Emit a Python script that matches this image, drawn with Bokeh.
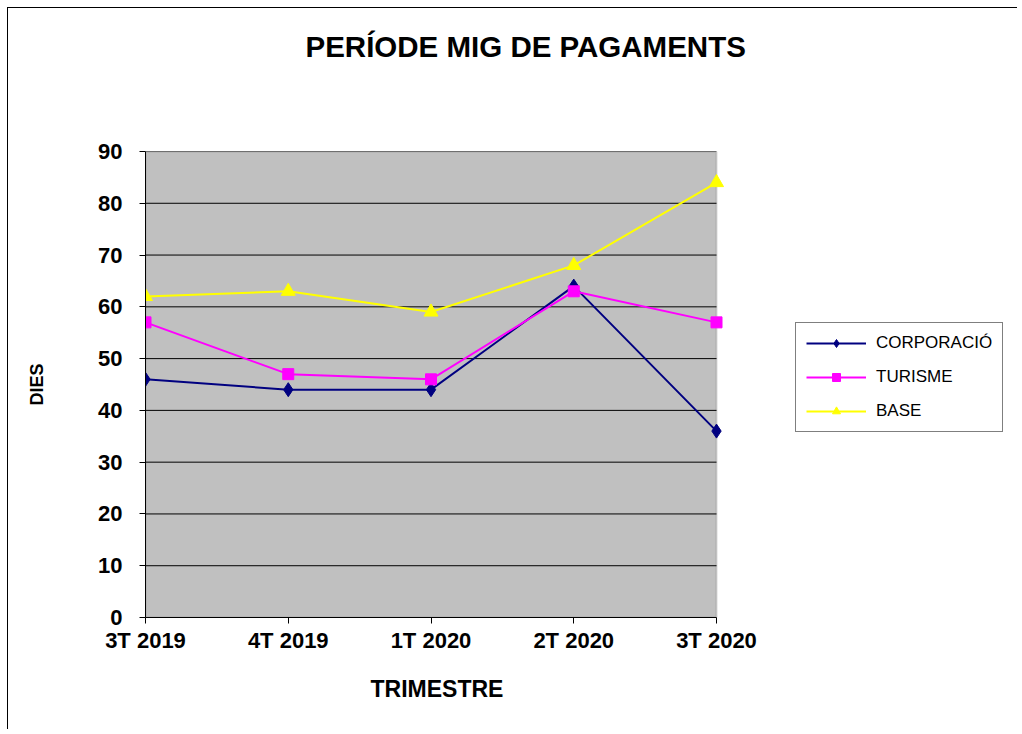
from bokeh.plotting import figure
from bokeh.models import Legend, LegendItem, FixedTicker, Range1d, BoxAnnotation, Title
from bokeh.embed import file_html
from bokeh.resources import INLINE

categories = ["3T 2019", "4T 2019", "1T 2020", "2T 2020", "3T 2020"]
corporacio = [46, 44, 44, 64, 36]
turisme = [57, 47, 46, 63, 57]
base = [62, 63, 59, 68, 84]
y_ticks = [0, 10, 20, 30, 40, 50, 60, 70, 80, 90]

FONT = "Liberation Sans"
xs = list(range(len(categories)))
x_last = len(categories) - 1
y_top = y_ticks[-1]

# pixel geometry (canvas starts at page x=8,y=8)
W, H = 1010, 722
MB_L, MB_R, MB_T, MB_B = 137, 4, 143, 113
plot_px = 716 - 145                      # width of grey plot area
frame_px = W - MB_L - MB_R
x_end = x_last * frame_px / plot_px      # extra room on the right for the legend

p = figure(title=None, width=W, height=H, output_backend="svg", toolbar_location=None,
           x_range=Range1d(0, x_end), y_range=Range1d(0, y_top),
           min_border_left=MB_L, min_border_right=MB_R, min_border_top=MB_T, min_border_bottom=MB_B,
           styles={"margin-left": "7px", "margin-top": "7px",
                   "border-left": "1px solid black", "border-top": "1px solid black"})
p.background_fill_color = "white"
p.border_fill_color = "white"
p.outline_line_color = None
p.xgrid.grid_line_color = None
p.ygrid.grid_line_color = None

plot_area = BoxAnnotation(left=0, right=x_last, bottom=0, top=y_top,
                          fill_color="#C0C0C0", fill_alpha=1,
                          line_color="#808080", line_width=2, level="underlay")
p.add_layout(plot_area)
p.segment(x0=[0] * len(y_ticks[1:]), x1=[x_last] * len(y_ticks[1:]),
          y0=y_ticks[1:], y1=y_ticks[1:], line_color="black", line_width=1)

# spacer between frame and main title, then the main title
p.add_layout(Title(text=" ", text_font_size="1px", standoff=63), "above")
p.add_layout(Title(text="PERÍODE MIG DE PAGAMENTS", text_font=FONT, text_font_size="29.5px",
                   text_font_style="bold", text_color="black", align="left", offset=160,
                   vertical_align="top", standoff=42), "above")

p.yaxis.ticker = FixedTicker(ticks=y_ticks)
p.xaxis.ticker = FixedTicker(ticks=xs)
p.xaxis.bounds = (0, x_last)
p.xaxis.major_label_overrides = {i: c for i, c in enumerate(categories)}
for ax in (p.xaxis, p.yaxis):
    ax.axis_line_color = "black"
    ax.axis_line_width = 1
    ax.major_tick_line_color = "black"
    ax.major_tick_out = 6
    ax.major_tick_in = 0
    ax.minor_tick_line_color = None
    ax.major_label_text_font = FONT
    ax.major_label_text_font_size = "22px"
    ax.major_label_text_font_style = "bold"
    ax.major_label_text_color = "black"
    ax.axis_label_text_font = FONT
    ax.axis_label_text_font_style = "bold"
    ax.axis_label_text_color = "black"
p.yaxis.axis_label = "DIES"
p.yaxis.axis_label_text_font_size = "18px"
p.xaxis.major_label_standoff = 4
p.yaxis.major_label_standoff = 17
p.yaxis.axis_label_standoff = 48

# x axis title, placed under the grey plot area
p.add_layout(Title(text="TRIMESTRE", text_font=FONT, text_font_size="23px",
                   text_font_style="bold", text_color="black", align="left", offset=370 - 145,
                   vertical_align="top", standoff=40), "below")

navy = "#000080"
mag = "#FF00FF"
yel = "#FFFF00"

r1 = p.line(xs, corporacio, line_color=navy, line_width=2)
m1 = p.scatter(xs, corporacio, marker="diamond", size=14, fill_color=navy, line_color=navy)
r2 = p.line(xs, turisme, line_color=mag, line_width=2)
m2 = p.scatter(xs, turisme, marker="square", size=11, fill_color=mag, line_color=mag)
r3 = p.line(xs, base, line_color=yel, line_width=2)
m3 = p.scatter(xs, base, marker="triangle", size=14, fill_color=yel, line_color=yel)

legend = Legend(items=[
    LegendItem(label="CORPORACIÓ", renderers=[r1, m1]),
    LegendItem(label="TURISME", renderers=[r2, m2]),
    LegendItem(label="BASE", renderers=[r3, m3]),
], location=(795 - 145, 617 - 432))
legend.label_text_font = FONT
legend.label_text_font_size = "17px"
legend.label_text_color = "black"
legend.glyph_width = 60
legend.glyph_height = 20
legend.label_standoff = 10
legend.spacing = 14
legend.padding = 10
legend.margin = 0
legend.border_line_color = "black"
legend.border_line_width = 1
legend.background_fill_color = "white"
legend.background_fill_alpha = 1
p.add_layout(legend, "center")

open("out.html", "w").write(file_html(p, INLINE))
